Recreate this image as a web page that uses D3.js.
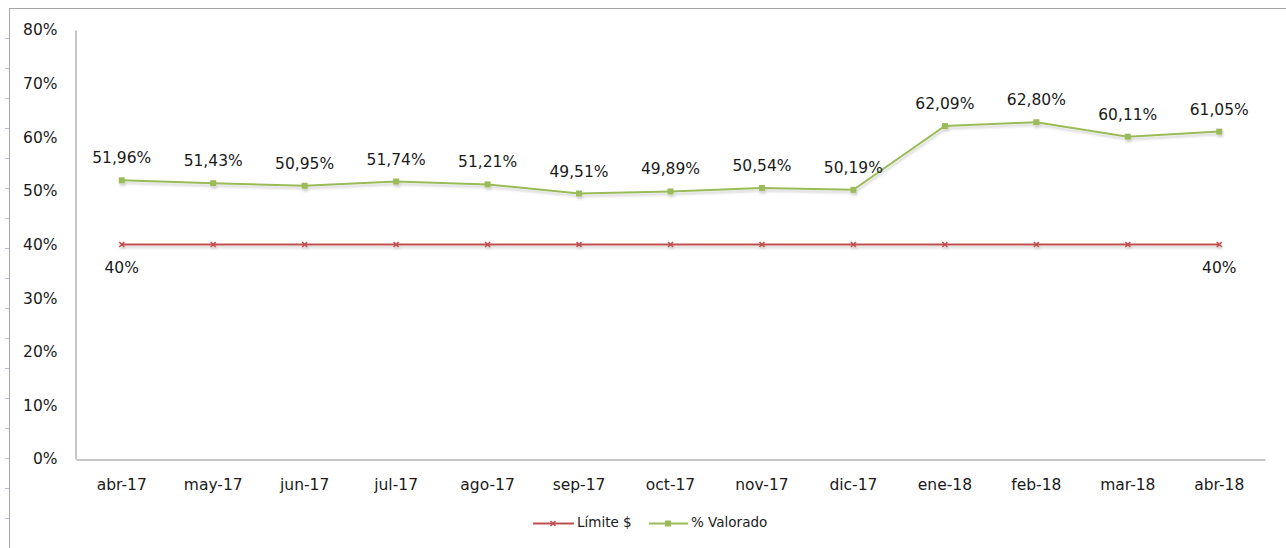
<!DOCTYPE html>
<html>
<head>
<meta charset="utf-8">
<script src="https://cdn.jsdelivr.net/npm/d3@7/dist/d3.min.js"></script>
<style>
  html, body { margin: 0; padding: 0; background: #ffffff; }
  svg { display: block; font-family: "DejaVu Sans", Verdana, sans-serif; }
</style>
</head>
<body>
<div id="chart"></div>
<script>
const categories = ["abr-17","may-17","jun-17","jul-17","ago-17","sep-17","oct-17","nov-17","dic-17","ene-18","feb-18","mar-18","abr-18"];
const valorado = [51.96, 51.43, 50.95, 51.74, 51.21, 49.51, 49.89, 50.54, 50.19, 62.09, 62.80, 60.11, 61.05];
const limite = [40, 40, 40, 40, 40, 40, 40, 40, 40, 40, 40, 40, 40];
const yTicks = [0, 10, 20, 30, 40, 50, 60, 70, 80];
const seriesNames = ["Límite $", "% Valorado"];
const limiteLabelIdx = [0, 12];

const W = 1286, H = 548;
const colorRed = "#c0504d", colorGreen = "#9bbb59";
const fmt = v => v.toFixed(2).replace(".", ",") + "%";

const svg = d3.select("#chart").append("svg").attr("width", W).attr("height", H);

const defs = svg.append("defs");
const f = defs.append("filter").attr("id", "shadow").attr("x", "-5%").attr("y", "-50%").attr("width", "110%").attr("height", "200%");
f.append("feDropShadow").attr("dx", 1).attr("dy", 2.5).attr("stdDeviation", 1.3).attr("flood-color", "#000").attr("flood-opacity", 0.18);

// outer frame (spreadsheet edge)
svg.append("line").attr("x1", 9.5).attr("x2", 9.5).attr("y1", 8).attr("y2", H).attr("stroke", "#a6a6a6").attr("stroke-width", 1);
svg.append("line").attr("x1", 9).attr("x2", W).attr("y1", 8.5).attr("y2", 8.5).attr("stroke", "#a6a6a6").attr("stroke-width", 1);
const rowMarks = d3.range(38, H, 30);
svg.selectAll(".rowmark").data(rowMarks).enter().append("line")
  .attr("x1", 5).attr("x2", 9).attr("y1", d => d + 0.5).attr("y2", d => d + 0.5)
  .attr("stroke", "#b8c4d6").attr("stroke-width", 1);

const plot = { left: 76, right: 1265, top: 30, bottom: 459 };

const x = d3.scaleBand().domain(categories).range([plot.left, plot.right]).padding(0);
const y = d3.scaleLinear().domain([0, 80]).range([plot.bottom, plot.top]);
const cx = c => x(c) + x.bandwidth() / 2;

// Y axis
const yAxis = svg.append("g").attr("transform", `translate(${plot.left - 0.5},0)`)
  .call(d3.axisLeft(y).tickValues(yTicks).tickSize(0).tickPadding(18).tickFormat(d => d + "%"));
yAxis.select(".domain").attr("stroke", "#8c8c8c");
yAxis.selectAll("text").attr("font-size", "15.5px").attr("fill", "#1a1a1a")
  .attr("font-family", "DejaVu Sans, Verdana, sans-serif");

// X axis
const xAxis = svg.append("g").attr("transform", `translate(0,${plot.bottom + 0.5})`)
  .call(d3.axisBottom(x).tickSize(0).tickPadding(19));
xAxis.select(".domain").attr("stroke", "#8c8c8c");
xAxis.selectAll("text").attr("font-size", "15.5px").attr("fill", "#1a1a1a")
  .attr("font-family", "DejaVu Sans, Verdana, sans-serif");

const line = d3.line().x((d, i) => cx(categories[i])).y(d => y(d));

// Límite line
const gL = svg.append("g").attr("filter", "url(#shadow)");
gL.append("path").datum(limite).attr("d", line).attr("fill", "none").attr("stroke", colorRed).attr("stroke-width", 2);
const xMark = (g, px, py, s) => {
  g.append("path").attr("d", `M${px - s},${py - s}L${px + s},${py + s}M${px - s},${py + s}L${px + s},${py - s}`)
    .attr("stroke", colorRed).attr("stroke-width", 1.6).attr("fill", "none");
};
limite.forEach((v, i) => xMark(gL, cx(categories[i]), y(v), 2.5));

// Valorado line
const gV = svg.append("g").attr("filter", "url(#shadow)");
gV.append("path").datum(valorado).attr("d", line).attr("fill", "none").attr("stroke", colorGreen).attr("stroke-width", 2);
gV.selectAll("rect").data(valorado).enter().append("rect")
  .attr("x", (d, i) => cx(categories[i]) - 3).attr("y", d => y(d) - 3)
  .attr("width", 6).attr("height", 6).attr("fill", colorGreen);

// data labels
svg.selectAll(".vlab").data(valorado).enter().append("text")
  .attr("x", (d, i) => cx(categories[i])).attr("y", d => y(d) - 17)
  .attr("text-anchor", "middle").attr("font-size", "15.5px").attr("fill", "#1a1a1a")
  .text(d => fmt(d));

svg.selectAll(".llab").data(limiteLabelIdx).enter().append("text")
  .attr("x", i => cx(categories[i])).attr("y", i => y(limite[i]) + 24)
  .attr("text-anchor", "middle").attr("dominant-baseline", "middle")
  .attr("font-size", "15.5px").attr("fill", "#1a1a1a")
  .text(i => limite[i] + "%");

// Legend
const leg = svg.append("g").attr("transform", "translate(0,523)");
// Límite $
leg.append("line").attr("x1", 533).attr("x2", 574).attr("y1", 0.5).attr("y2", 0.5).attr("stroke", colorRed).attr("stroke-width", 2);
xMark(leg, 553, 0.5, 2.5);
leg.append("text").attr("x", 577).attr("y", 0).attr("dominant-baseline", "middle")
  .attr("font-size", "13.5px").attr("fill", "#1a1a1a").text(seriesNames[0]);
// % Valorado
leg.append("line").attr("x1", 649).attr("x2", 688).attr("y1", 0.5).attr("y2", 0.5).attr("stroke", colorGreen).attr("stroke-width", 2);
leg.append("rect").attr("x", 665).attr("y", -2.5).attr("width", 6).attr("height", 6).attr("fill", colorGreen);
leg.append("text").attr("x", 691).attr("y", 0).attr("dominant-baseline", "middle")
  .attr("font-size", "13.5px").attr("fill", "#1a1a1a").text(seriesNames[1]);
</script>
</body>
</html>
